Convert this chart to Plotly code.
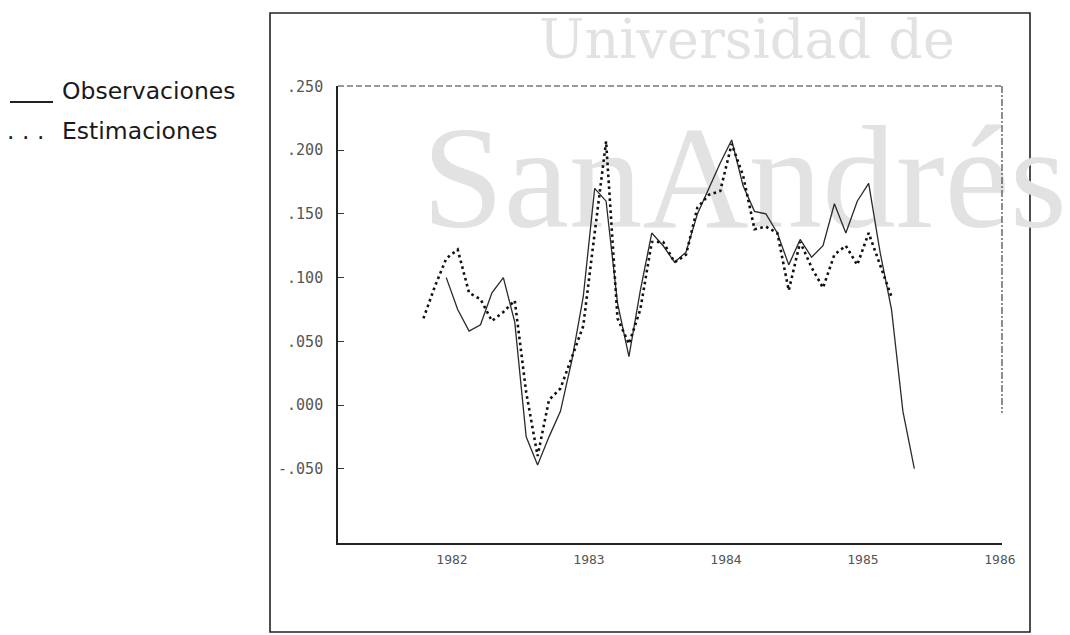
import pandas as pd
import plotly.graph_objects as go

# Monthly series, Oct 1981 - May 1985
months = pd.period_range("1981-10", "1985-05", freq="M")

observaciones = [
    None, None, 0.100, 0.075, 0.058, 0.063, 0.088, 0.100, 0.065, -0.025,
    -0.047, -0.025, -0.005, 0.035, 0.085, 0.170, 0.160, 0.080, 0.038, 0.090,
    0.135, 0.125, 0.112, 0.120, 0.150, 0.170, 0.190, 0.208, 0.172, 0.152,
    0.150, 0.135, 0.110, 0.130, 0.116, 0.125, 0.158, 0.135, 0.160, 0.174,
    0.120, 0.075, -0.005, -0.050,
]

estimaciones = [
    0.068, 0.093, 0.115, 0.122, 0.088, 0.083, 0.066, 0.073, 0.082, 0.010,
    -0.040, 0.004, 0.013, 0.038, 0.062, 0.135, 0.207, 0.068, 0.048, 0.075,
    0.128, 0.128, 0.112, 0.118, 0.155, 0.165, 0.168, 0.205, 0.180, 0.138,
    0.140, 0.135, 0.090, 0.128, 0.108, 0.092, 0.118, 0.125, 0.110, 0.135,
    0.110, 0.085, None, None,
]

y_ticks = [0.25, 0.20, 0.15, 0.10, 0.05, 0.0, -0.05]
y_tick_text = [".250", ".200", ".150", ".100", ".050", ".000", "-.050"]
x_ticks = [1982, 1983, 1984, 1985, 1986]
x_tick_text = ["1982", "1983", "1984", "1985", "1986"]

# decimal-year position of each month (mid-month)
t = [p.year + (p.month - 0.5) / 12 for p in months]

W, H = 1070, 635
L, R, T, B = 338, 1002, 86, 543
X_RANGE = [1981.168, 1986.015]
Y_RANGE = [-0.1083, 0.2504]


def px_x(px):
    return (px - L) / (R - L)


def px_y(py):
    return (B - py) / (B - T)


def data_x(px):
    return X_RANGE[0] + (px - L) / (R - L) * (X_RANGE[1] - X_RANGE[0])


def data_y(py):
    return Y_RANGE[0] + (B - py) / (B - T) * (Y_RANGE[1] - Y_RANGE[0])


fig = go.Figure()

# watermark word, kept beneath the series
fig.add_trace(go.Scatter(
    x=[data_x(422)], y=[data_y(190)], mode="text", text=["SanAndrés"],
    textposition="middle right", cliponaxis=False, hoverinfo="skip",
    textfont=dict(family="Liberation Serif", size=147, color="#e2e2e2"),
    showlegend=False,
))

fig.add_trace(go.Scatter(
    x=t, y=observaciones, mode="lines", name="Observaciones",
    line=dict(color="#2a2a2a", width=1.3), connectgaps=False,
    showlegend=False,
))
fig.add_trace(go.Scatter(
    x=t, y=estimaciones, mode="lines", name="Estimaciones",
    line=dict(color="#111111", width=2.6, dash="2.6px,3.4px"),
    showlegend=False,
))

shapes = [
    # outer frame
    dict(type="rect", xref="paper", yref="paper",
         x0=px_x(270), x1=px_x(1030), y0=px_y(632), y1=px_y(13),
         line=dict(color="#222222", width=1.6), layer="below"),
    # dashed top border of the plot box
    dict(type="line", xref="paper", yref="paper",
         x0=px_x(L), x1=px_x(R), y0=px_y(T), y1=px_y(T),
         line=dict(color="#333333", width=1.1, dash="6px,3px")),
    # dashed right border, upper part
    dict(type="line", xref="paper", yref="paper",
         x0=px_x(R), x1=px_x(R), y0=px_y(T), y1=px_y(413),
         line=dict(color="#333333", width=1.1, dash="7px,2px,2px,2px")),
    # legend sample: solid line
    dict(type="line", xref="paper", yref="paper",
         x0=px_x(10), x1=px_x(53), y0=px_y(102), y1=px_y(102),
         line=dict(color="#222222", width=1.8)),
]

annotations = [
    dict(text="Universidad de", xref="paper", yref="paper",
         x=px_x(537), y=px_y(40), xanchor="left", yanchor="middle",
         showarrow=False,
         font=dict(family="DejaVu Serif", size=54, color="#e2e2e2")),
    dict(text="Observaciones", xref="paper", yref="paper",
         x=px_x(60), y=px_y(91), xanchor="left", yanchor="middle",
         showarrow=False,
         font=dict(family="DejaVu Sans", size=23.5, color="#1a1a1a")),
    dict(text="Estimaciones", xref="paper", yref="paper",
         x=px_x(60), y=px_y(131), xanchor="left", yanchor="middle",
         showarrow=False,
         font=dict(family="DejaVu Sans", size=23.5, color="#1a1a1a")),
    dict(text=". . .", xref="paper", yref="paper",
         x=px_x(5), y=px_y(131), xanchor="left", yanchor="middle",
         showarrow=False,
         font=dict(family="DejaVu Sans", size=23.5, color="#1a1a1a")),
]

fig.update_layout(
    width=W, height=H,
    margin=dict(l=L, r=W - R, t=T, b=H - B, pad=0),
    paper_bgcolor="white", plot_bgcolor="white",
    shapes=shapes, annotations=annotations,
    showlegend=False,
    xaxis=dict(
        range=X_RANGE, tickvals=x_ticks, ticktext=x_tick_text,
        showgrid=False, zeroline=False, showline=True,
        linecolor="#222222", linewidth=1.6, ticks="",
        ticklabelstandoff=4,
        tickfont=dict(family="DejaVu Sans Mono", size=13, color="#555555"),
    ),
    yaxis=dict(
        range=Y_RANGE, tickvals=y_ticks, ticktext=y_tick_text,
        showgrid=False, zeroline=False, showline=True,
        linecolor="#222222", linewidth=1.6, ticks="inside", ticklen=6,
        tickcolor="#333333", tickwidth=1.2, ticklabelstandoff=10,
        tickfont=dict(family="DejaVu Sans Mono", size=15, color="#555555"),
    ),
)

fig.write_html("out.html")
